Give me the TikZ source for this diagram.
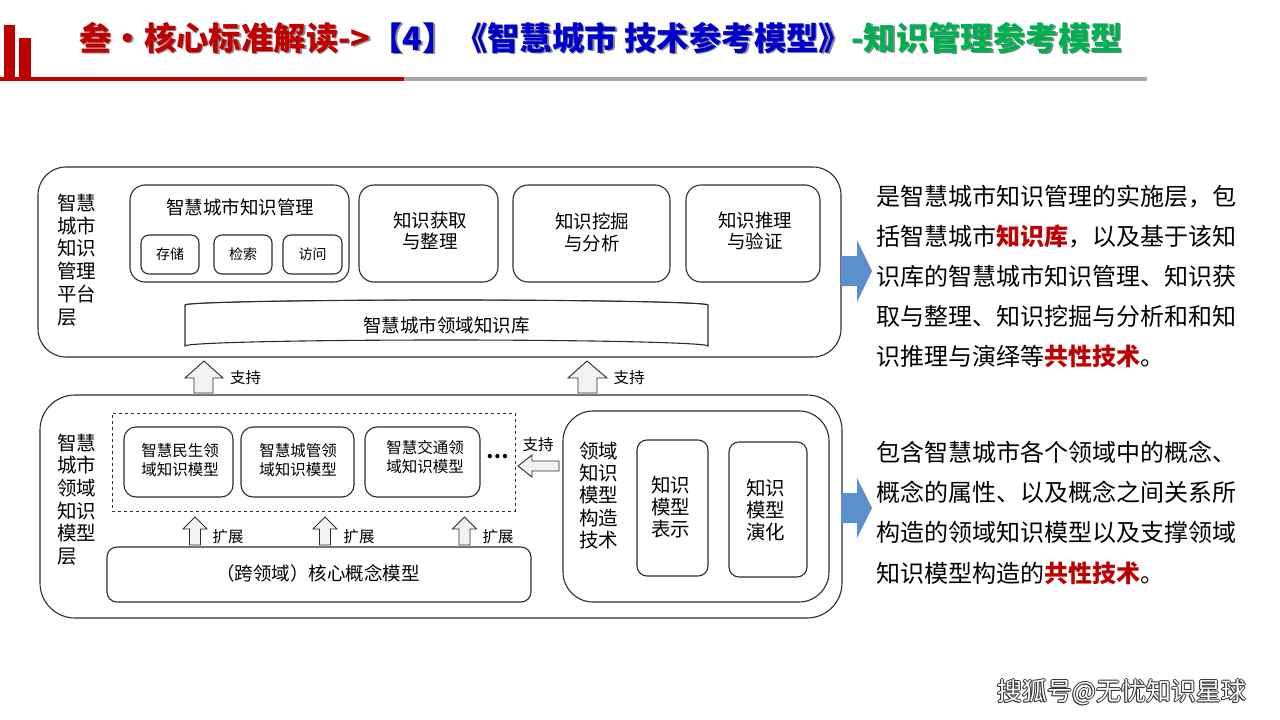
\documentclass[tikz,border=0pt]{standalone}
\usepackage{fontspec}
\setmainfont{Noto Sans CJK SC}
\definecolor{tred}{RGB}{192,0,0}
\definecolor{tblue}{RGB}{0,0,204}
\definecolor{tgreen}{RGB}{0,176,80}
\definecolor{lgray}{RGB}{166,166,166}
\definecolor{arrblue}{RGB}{91,143,206}
\definecolor{edge}{RGB}{45,45,45}
\definecolor{afill}{RGB}{242,242,242}
\newcommand{\fsz}[2]{\fontsize{#1}{#2}\selectfont}
\begin{document}
\begin{tikzpicture}[x=1pt,y=-1pt,
  box/.style={draw=edge, line width=1.1pt, rounded corners=#1, inner sep=0pt, align=center},
  box/.default=12pt,
  lbl/.style={inner sep=0pt, align=left, anchor=west},
  txt/.style={inner sep=0pt, align=center},
  blockarr/.style={draw=edge, line width=0.9pt, fill=afill, line join=miter},
  bluearr/.style={fill=arrblue, draw=none}]
\useasboundingbox (0,0) rectangle (1280,720);
\fill[white] (0,0) rectangle (1280,720);

% header
\fill[tred] (4,25) rectangle (15,78);
\fill[tred] (19,38) rectangle (31,78);
\fill[tred] (0,77) rectangle (404,81);
\fill[lgray] (404,77) rectangle (1147,81);
\node[inner sep=0pt, anchor=west, text=black!45, font={\fsz{32.4}{36}\bfseries}] (titleshadow) at (80.5,39.5)
  {叁・核心标准解读->【4】《智慧城市 技术参考模型》-知识管理参考模型};
\node[inner sep=0pt, anchor=west, font={\fsz{32.4}{36}\bfseries}] (title) at (79,38)
  {\color{tred}叁・核心标准解读->\color{tblue}【4】《智慧城市 技术参考模型》\color{tgreen}-知识管理参考模型};

% ===== top layer =====
\node[box=28pt, minimum width=803pt, minimum height=190pt] (top) at (439.5,262) {};
\node[lbl, font={\fsz{19.5}{22.8}}] (toplbl) at (57,260) {智慧\\城市\\知识\\管理\\平台\\层};

\node[box=15pt, minimum width=219pt, minimum height=97pt] (kmgmt) at (239.5,233.5) {};
\node[txt, font={\fsz{18.5}{22}}] (kmgmttxt) at (240,207) {智慧城市知识管理};
\node[box=8pt, minimum width=58pt, minimum height=39pt, font={\fsz{14}{16}}] (store) at (170,254.5) {存储};
\node[box=8pt, minimum width=58pt, minimum height=39pt, font={\fsz{14}{16}}] (search) at (243,254.5) {检索};
\node[box=8pt, minimum width=59pt, minimum height=39pt, font={\fsz{14}{16}}] (access) at (312.5,254.5) {访问};

\node[box=15pt, minimum width=139pt, minimum height=97pt] (acq) at (428.5,233.5) {};
\node[txt, font={\fsz{18.5}{21.5}}] (acqtxt) at (430,231) {知识获取\\与整理};
\node[box=15pt, minimum width=157pt, minimum height=97pt] (mine) at (591.5,233.5) {};
\node[txt, font={\fsz{18.5}{21.5}}] (minetxt) at (592,232.5) {知识挖掘\\与分析};
\node[box=15pt, minimum width=134pt, minimum height=97pt] (reas) at (753,233.5) {};
\node[txt, font={\fsz{18.5}{21.5}}] (reastxt) at (755,231) {知识推理\\与验证};

% cylinder
\draw[draw=edge, line width=1.1pt, fill=white]
  (185,305) -- (185,346) arc[start angle=180, end angle=0, x radius=261.5pt, y radius=6pt]
  -- (708,305) arc[start angle=0, end angle=180, x radius=261.5pt, y radius=5pt] -- cycle;
\draw[draw=edge, line width=0.8pt] (185,305) arc[start angle=180, end angle=0, x radius=261.5pt, y radius=5pt];
\node[txt, font={\fsz{18.5}{21.5}}] (kb) at (446.5,325) {智慧城市领域知识库};

% support arrows
\draw[blockarr] (204,361) -- (223,378) -- (213,378) -- (213,393) -- (194,393) -- (194,378) -- (185,378) -- cycle;
\node[txt, font={\fsz{15.5}{18}}] (sup1) at (245.5,378) {支持};
\draw[blockarr] (587,361) -- (607,378) -- (597,378) -- (597,393) -- (578,393) -- (578,378) -- (568,378) -- cycle;
\node[txt, font={\fsz{15.5}{18}}] (sup2) at (629,378) {支持};

% ===== bottom layer =====
\node[box=35pt, minimum width=802pt, minimum height=223pt] (bot) at (441,506.5) {};
\node[lbl, font={\fsz{19.5}{22.6}}] (botlbl) at (57,499.5) {智慧\\城市\\领域\\知识\\模型\\层};

\node[draw=edge, dashed, line width=0.8pt, minimum width=403pt, minimum height=98pt, inner sep=0pt] (dash) at (313.5,462) {};
\node[box=12pt, minimum width=109pt, minimum height=70pt] (m1) at (178.5,462) {};
\node[txt, font={\fsz{15.5}{19}}] (m1t) at (180,460.5) {智慧民生领\\域知识模型};
\node[box=12pt, minimum width=113pt, minimum height=70pt] (m2) at (297.5,462) {};
\node[txt, font={\fsz{15.5}{19}}] (m2t) at (298,460.5) {智慧城管领\\域知识模型};
\node[box=12pt, minimum width=115pt, minimum height=70pt] (m3) at (422.5,462) {};
\node[txt, font={\fsz{15.5}{19}}] (m3t) at (425,457.5) {智慧交通领\\域知识模型};
\node[txt, font={\fsz{20}{20}\bfseries}] (dots) at (498,457) {…};

% left arrow
\draw[blockarr] (518,466) -- (532,455) -- (532,461) -- (559,461) -- (559,471) -- (532,471) -- (532,477) -- cycle;
\node[txt, font={\fsz{15.5}{18}}] (sup3) at (538,445) {支持};

% extend arrows
\draw[blockarr] (195,517) -- (207,529) -- (200.5,529) -- (200.5,545) -- (189.5,545) -- (189.5,529) -- (183,529) -- cycle;
\node[txt, font={\fsz{15.5}{18}}] (ext1) at (228,537) {扩展};
\draw[blockarr] (325,517) -- (337,529) -- (330.5,529) -- (330.5,545) -- (319.5,545) -- (319.5,529) -- (313,529) -- cycle;
\node[txt, font={\fsz{15.5}{18}}] (ext2) at (359,537) {扩展};
\draw[blockarr] (464.5,517) -- (476.5,529) -- (470,529) -- (470,545) -- (459,545) -- (459,529) -- (452.5,529) -- cycle;
\node[txt, font={\fsz{15.5}{18}}] (ext3) at (498,537) {扩展};

\node[box=10pt, minimum width=424pt, minimum height=55pt] (core) at (319,574.5) {};
\node[txt, font={\fsz{18.5}{21.5}}] (coret) at (318,573) {（跨领域）核心概念模型};

% right inner
\node[box=30pt, minimum width=266pt, minimum height=191pt] (tech) at (696,506.5) {};
\node[lbl, font={\fsz{19.5}{22.3}}] (techlbl) at (579,495.5) {领域\\知识\\模型\\构造\\技术};
\node[box=10pt, minimum width=71pt, minimum height=136pt] (rep) at (672.5,508) {};
\node[txt, font={\fsz{19.5}{22}}] (rept) at (670.5,507) {知识\\模型\\表示};
\node[box=10pt, minimum width=78pt, minimum height=135pt] (evo) at (768,509.5) {};
\node[txt, font={\fsz{19.5}{22}}] (evot) at (765.5,510) {知识\\模型\\演化};

% ===== blue arrows =====
\fill[bluearr] (841,256) -- (857,256) -- (857,240) -- (872,271) -- (857,302) -- (857,286) -- (841,286) -- cycle;
\fill[bluearr] (841,493) -- (857,493) -- (857,478) -- (872,508) -- (857,538) -- (857,523) -- (841,523) -- cycle;

% ===== right paragraphs =====
\node[lbl, font={\fsz{24}{40}}] (para1) at (876,276) {是智慧城市知识管理的实施层，包\\
括智慧城市{\bfseries\color{tred}知识库}，以及基于该知\\
识库的智慧城市知识管理、知识获\\
取与整理、知识挖掘与分析和和知\\
识推理与演绎等{\bfseries\color{tred}共性技术}。};
\node[lbl, font={\fsz{24}{40.3}}] (para2) at (876,512.5) {包含智慧城市各个领域中的概念、\\
概念的属性、以及概念之间关系所\\
构造的领域知识模型以及支撑领域\\
知识模型构造的{\bfseries\color{tred}共性技术}。};

% watermark
\foreach \dx/\dy in {-0.9/0,0.9/0,0/-0.9,0/0.9,-0.7/0.7}
  \node[txt, text=black!80, font={\fsz{25}{28}}] at (1122+\dx,692+\dy) {搜狐号@无忧知识星球};
\node[txt, text=white, font={\fsz{25}{28}}] (wm) at (1122,692) {搜狐号@无忧知识星球};
\end{tikzpicture}
\end{document}
